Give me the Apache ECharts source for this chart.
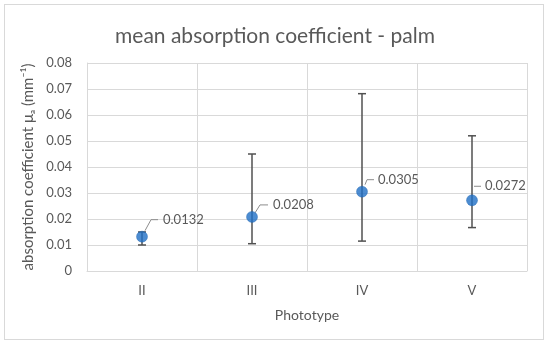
<!DOCTYPE html>
<html>
<head>
<meta charset="utf-8">
<script src="https://cdn.jsdelivr.net/npm/echarts@6/dist/echarts.min.js"></script>
<style>
html,body{margin:0;padding:0;background:#fff;}
#frame{position:absolute;left:4px;top:4px;width:540px;height:336px;border:1px solid #d9d9d9;box-sizing:border-box;}
#chart{position:absolute;left:0;top:0;width:550px;height:347px;}
</style>
</head>
<body>
<div id="frame"></div>
<div id="chart"></div>
<script>
const categories = ['II', 'III', 'IV', 'V'];
const meanValues = [0.0132, 0.0208, 0.0305, 0.0272];
const errLow = [0.0100, 0.0105, 0.0115, 0.0167];
const errHigh = [0.0150, 0.0450, 0.0682, 0.0520];
const yTicks = [0, 0.01, 0.02, 0.03, 0.04, 0.05, 0.06, 0.07, 0.08];

// label leader-line offsets (pixels, styling only)
const labelStyle = [
  {sx: 3, sy: -6, bx: 9, by: -17, ex: 16, tx: 21},
  {sx: 3, sy: -4, bx: 8, by: -12, ex: 16, tx: 21},
  {sx: 3, sy: -7, bx: 5, by: -12, ex: 12, tx: 16},
  {sx: 2, sy: -14, bx: 2, by: -14, ex: 9, tx: 13}
];

const FONT = 'Lato, "Open Sans", sans-serif';
const GRAY = '#595959';

const chart = echarts.init(document.getElementById('chart'), null, {renderer: 'canvas'});

const errData = categories.map((c, i) => [i, meanValues[i], errLow[i], errHigh[i]]);

chart.setOption({
  backgroundColor: 'transparent',
  animation: false,
  title: {
    text: 'mean absorption coefficient - palm',
    left: 'center',
    top: 21,
    textStyle: {fontFamily: FONT, fontSize: 21, fontWeight: 'normal', color: GRAY}
  },
  grid: {left: 87, right: 23, top: 63, bottom: 76, containLabel: false},
  xAxis: {
    type: 'category',
    data: categories,
    boundaryGap: true,
    name: 'Phototype',
    nameLocation: 'middle',
    nameGap: 37,
    nameTextStyle: {fontFamily: FONT, fontSize: 14, color: GRAY},
    axisLine: {show: true, lineStyle: {color: '#d9d9d9', width: 1}},
    axisTick: {show: false},
    axisLabel: {fontFamily: FONT, fontSize: 13, color: GRAY, margin: 13},
    splitLine: {show: true, lineStyle: {color: '#d9d9d9', width: 1}}
  },
  yAxis: {
    type: 'value',
    min: 0, max: 0.08, interval: 0.01,
    name: 'absorption coefficient μₐ (mm⁻¹)',
    nameLocation: 'middle',
    nameGap: 49,
    nameRotate: 90,
    nameTextStyle: {fontFamily: FONT, fontSize: 15, color: GRAY},
    axisLine: {show: true, lineStyle: {color: '#d9d9d9'}},
    axisTick: {show: false},
    axisLabel: {
      fontFamily: FONT, fontSize: 13, color: GRAY, margin: 15,
      formatter: v => {
        const t = yTicks.find(x => Math.abs(x - v) < 1e-9);
        return t === 0 ? '0' : (t !== undefined ? t.toFixed(2) : '');
      }
    },
    splitLine: {show: true, lineStyle: {color: '#d9d9d9', width: 1}}
  },
  series: [
    {
      type: 'custom',
      data: errData,
      z: 2,
      renderItem: function (params, api) {
        const i = api.value(0);
        const p = api.coord([i, api.value(1)]);
        const lo = api.coord([i, api.value(2)]);
        const hi = api.coord([i, api.value(3)]);
        const cap = 4;
        const s = labelStyle[params.dataIndex];
        const st = {stroke: '#505050', lineWidth: 1.5};
        const lead = {stroke: '#8c8c8c', lineWidth: 1, fill: null};
        return {
          type: 'group',
          children: [
            {type: 'line', shape: {x1: p[0], y1: hi[1], x2: p[0], y2: lo[1]}, style: st},
            {type: 'line', shape: {x1: p[0] - cap, y1: hi[1], x2: p[0] + cap, y2: hi[1]}, style: st},
            {type: 'line', shape: {x1: p[0] - cap, y1: lo[1], x2: p[0] + cap, y2: lo[1]}, style: st},
            {type: 'polyline', shape: {points: [[p[0] + s.sx, p[1] + s.sy], [p[0] + s.bx, p[1] + s.by], [p[0] + s.ex, p[1] + s.by]]}, style: lead},
            {type: 'text', x: p[0] + s.tx, y: p[1] + s.by, style: {
              text: api.value(1).toFixed(4), fill: GRAY, font: '13px ' + FONT,
              textAlign: 'left', textVerticalAlign: 'middle'
            }}
          ]
        };
      }
    },
    {
      type: 'scatter',
      data: meanValues,
      z: 3,
      symbol: 'circle',
      symbolSize: 11,
      itemStyle: {color: '#1f6fc5', borderColor: '#1a62ae', borderWidth: 0.5}
    }
  ]
});
</script>
</body>
</html>
